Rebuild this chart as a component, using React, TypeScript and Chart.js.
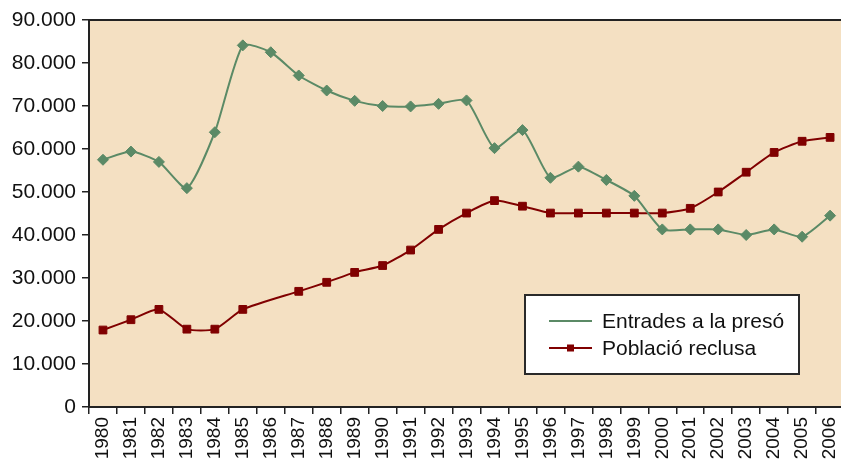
import React, { useEffect, useRef } from "react";
import { Chart, registerables } from "chart.js";

Chart.register(...registerables);

const years = ["1980","1981","1982","1983","1984","1985","1986","1987","1988","1989","1990","1991","1992","1993","1994","1995","1996","1997","1998","1999","2000","2001","2002","2003","2004","2005","2006"];
const entrades = [57500, 59400, 57000, 50900, 63900, 84100, 82500, 77100, 73600, 71200, 70000, 69900, 70500, 71300, 60200, 64400, 53300, 55900, 52800, 49100, 41300, 41300, 41300, 40000, 41300, 39600, 44500];
const poblacio = [17900, 20300, 22700, 18100, 18100, 22700, null, 26900, 29000, 31300, 32900, 36500, 41300, 45100, 48000, 46700, 45100, 45100, 45100, 45100, 45100, 46200, 50000, 54600, 59200, 61800, 62700];
const seriesNames = ["Entrades a la presó", "Població reclusa"];

const GREEN = "#5b8a66";
const RED = "#800000";
const BG = "#f4e0c2";
const AXIS = "#222222";
const FONT = "'Liberation Sans', Arial, sans-serif";

const fmt = (v: number) => String(v).replace(/\B(?=(\d{3})+(?!\d))/g, ".");

const framePlugin = {
  id: "frame",
  beforeDraw(chart: any) {
    const { ctx, chartArea: a } = chart;
    ctx.save();
    ctx.fillStyle = BG;
    ctx.fillRect(a.left, a.top, a.right - a.left, a.bottom - a.top);
    ctx.restore();
  },
  afterDraw(chart: any) {
    const { ctx, chartArea: a } = chart;
    ctx.save();
    ctx.strokeStyle = AXIS;
    ctx.lineWidth = 2;
    ctx.beginPath();
    ctx.moveTo(a.left, a.top);
    ctx.lineTo(a.right, a.top);
    ctx.stroke();

    const bx = a.left + 436;
    const by = a.top + 275;
    const bw = 274;
    const bh = 79;
    ctx.fillStyle = "#ffffff";
    ctx.fillRect(bx, by, bw, bh);
    ctx.strokeStyle = "#2a2a2a";
    ctx.lineWidth = 2;
    ctx.strokeRect(bx, by, bw, bh);

    const rows = [
      { name: seriesNames[0], color: GREEN, marker: false, y: by + 26 },
      { name: seriesNames[1], color: RED, marker: true, y: by + 53 },
    ];
    for (const r of rows) {
      ctx.strokeStyle = r.color;
      ctx.lineWidth = 2;
      ctx.beginPath();
      ctx.moveTo(bx + 24, r.y);
      ctx.lineTo(bx + 67, r.y);
      ctx.stroke();
      if (r.marker) {
        ctx.fillStyle = r.color;
        ctx.fillRect(bx + 45.5 - 3.5, r.y - 3.5, 7, 7);
      }
      ctx.fillStyle = "#111111";
      ctx.font = `21px ${FONT}`;
      ctx.textBaseline = "middle";
      ctx.textAlign = "left";
      ctx.fillText(r.name, bx + 77, r.y + 1);
    }
    ctx.restore();
  },
};

export default function App() {
  const ref = useRef<HTMLCanvasElement | null>(null);

  useEffect(() => {
    document.body.style.margin = "0";
    const canvas = ref.current;
    if (!canvas) return;
    const chart = new Chart(canvas, {
      type: "line",
      data: {
        labels: years,
        datasets: [
          {
            label: seriesNames[0],
            data: entrades,
            borderColor: GREEN,
            backgroundColor: GREEN,
            borderWidth: 2,
            pointStyle: "rectRot",
            pointRadius: 5.5,
            pointBorderWidth: 1,
            tension: 0.2,
          },
          {
            label: seriesNames[1],
            data: poblacio,
            borderColor: RED,
            backgroundColor: RED,
            borderWidth: 2,
            pointStyle: "rect",
            pointRadius: 5.5,
            pointBorderWidth: 1,
            spanGaps: true,
            tension: 0.2,
          },
        ],
      },
      options: {
        responsive: false,
        animation: false,
        layout: { padding: { top: 20, left: 0, right: 0, bottom: 0 } },
        plugins: {
          legend: { display: false },
          tooltip: { enabled: false },
        },
        scales: {
          x: {
            type: "category",
            offset: true,
            grid: {
              offset: true,
              drawOnChartArea: false,
              drawTicks: true,
              tickLength: 7,
              color: AXIS,
              lineWidth: 1.5,
            },
            border: { display: true, color: AXIS, width: 2 },
            ticks: {
              minRotation: 90,
              maxRotation: 90,
              autoSkip: false,
              padding: 3,
              color: "#111111",
              font: { family: FONT, size: 19 },
            },
            afterFit(scale: any) {
              scale.height = 57;
            },
          },
          y: {
            min: 0,
            max: 90000,
            grid: {
              drawOnChartArea: false,
              drawTicks: true,
              tickLength: 7,
              color: AXIS,
              lineWidth: 1.5,
            },
            border: { display: true, color: AXIS, width: 2 },
            ticks: {
              stepSize: 10000,
              padding: 6,
              color: "#111111",
              font: { family: FONT, size: 21 },
              callback: (v: any) => fmt(Number(v)),
            },
            afterFit(scale: any) {
              scale.width = 89;
            },
          },
        },
      },
      plugins: [framePlugin],
    });
    return () => chart.destroy();
  }, []);

  return (
    <div style={{ width: 841, height: 464, overflow: "hidden", position: "relative", background: "#ffffff" }}>
      <canvas ref={ref} width={856} height={464} style={{ display: "block" }} />
    </div>
  );
}
